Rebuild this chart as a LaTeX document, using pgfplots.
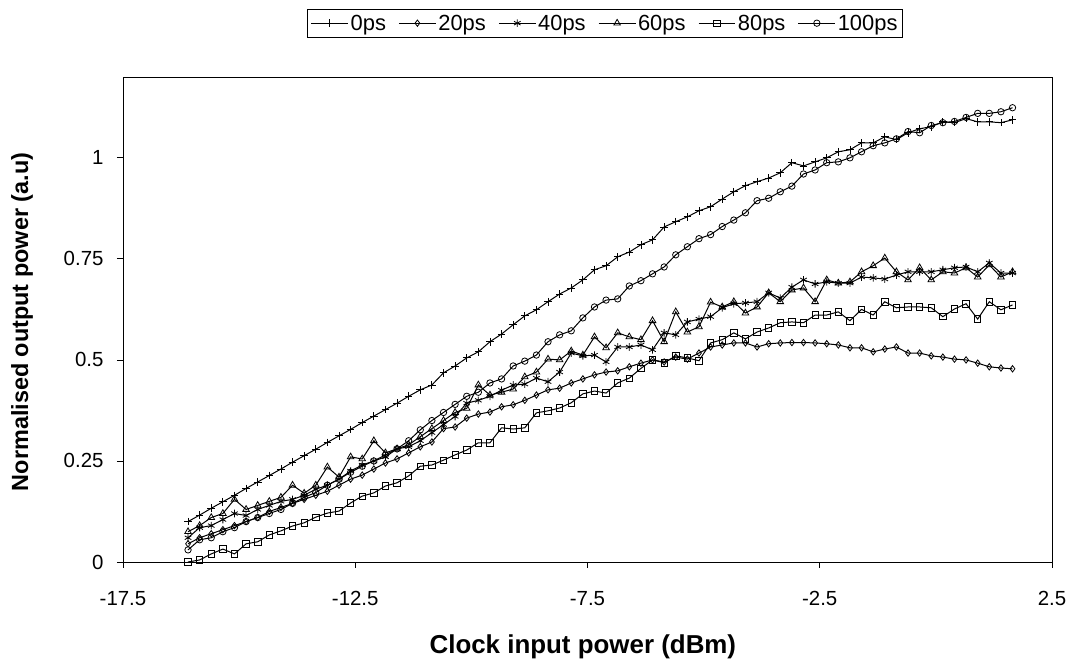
\documentclass[border=0pt]{standalone}
\usepackage{fontspec}
\setmainfont{Liberation Sans}
\usepackage{pgfplots}
\pgfplotsset{compat=1.18}
\usepackage{pgfplotstable}

\pgfplotstableread{
x p0 p20 p40 p60 p80 p100
-16.1 0.100 0.045 0.060 0.075 0.000 0.030
-15.85 0.116 0.060 0.085 0.090 0.005 0.055
-15.6 0.133 0.070 0.090 0.110 0.020 0.060
-15.35 0.149 0.080 0.105 0.120 0.032 0.075
-15.1 0.165 0.090 0.120 0.155 0.020 0.085
-14.85 0.182 0.100 0.115 0.130 0.045 0.100
-14.6 0.198 0.110 0.130 0.140 0.050 0.110
-14.35 0.214 0.125 0.140 0.150 0.067 0.120
-14.1 0.230 0.135 0.150 0.160 0.077 0.130
-13.85 0.247 0.145 0.155 0.190 0.089 0.145
-13.6 0.263 0.155 0.165 0.170 0.097 0.160
-13.35 0.279 0.165 0.180 0.190 0.111 0.172
-13.1 0.296 0.175 0.190 0.235 0.121 0.190
-12.85 0.312 0.190 0.205 0.210 0.126 0.205
-12.6 0.328 0.205 0.225 0.260 0.146 0.222
-12.35 0.345 0.215 0.240 0.255 0.163 0.237
-12.1 0.361 0.230 0.250 0.300 0.171 0.250
-11.85 0.377 0.245 0.260 0.270 0.188 0.265
-11.6 0.393 0.255 0.280 0.280 0.196 0.280
-11.35 0.410 0.270 0.285 0.290 0.213 0.300
-11.1 0.426 0.285 0.300 0.310 0.237 0.327
-10.85 0.438 0.297 0.320 0.330 0.240 0.350
-10.6 0.468 0.330 0.340 0.350 0.252 0.370
-10.35 0.485 0.334 0.360 0.370 0.265 0.390
-10.1 0.505 0.356 0.393 0.380 0.277 0.410
-9.85 0.520 0.366 0.400 0.438 0.295 0.420
-9.6 0.545 0.371 0.410 0.413 0.295 0.443
-9.35 0.564 0.384 0.425 0.420 0.332 0.453
-9.1 0.587 0.389 0.438 0.428 0.329 0.485
-8.85 0.609 0.400 0.440 0.458 0.332 0.497
-8.6 0.624 0.413 0.455 0.470 0.369 0.512
-8.35 0.644 0.426 0.446 0.502 0.374 0.545
-8.1 0.663 0.430 0.470 0.500 0.381 0.562
-7.85 0.678 0.443 0.517 0.522 0.394 0.572
-7.6 0.698 0.453 0.510 0.512 0.416 0.604
-7.35 0.723 0.463 0.512 0.557 0.423 0.631
-7.1 0.733 0.470 0.495 0.530 0.418 0.648
-6.85 0.755 0.473 0.532 0.567 0.443 0.651
-6.6 0.767 0.483 0.532 0.557 0.455 0.683
-6.35 0.785 0.492 0.537 0.550 0.479 0.696
-6.1 0.797 0.500 0.525 0.597 0.500 0.713
-5.85 0.829 0.495 0.567 0.545 0.493 0.730
-5.6 0.842 0.507 0.562 0.619 0.510 0.760
-5.35 0.854 0.502 0.594 0.569 0.505 0.780
-5.1 0.869 0.517 0.601 0.582 0.498 0.800
-4.85 0.879 0.532 0.607 0.643 0.542 0.810
-4.6 0.898 0.537 0.629 0.631 0.550 0.830
-4.35 0.916 0.542 0.639 0.644 0.567 0.846
-4.1 0.931 0.542 0.641 0.616 0.552 0.864
-3.85 0.941 0.532 0.644 0.631 0.569 0.894
-3.6 0.950 0.540 0.666 0.666 0.579 0.900
-3.35 0.963 0.542 0.653 0.644 0.592 0.916
-3.1 0.988 0.543 0.680 0.673 0.594 0.930
-2.85 0.980 0.543 0.698 0.678 0.592 0.960
-2.6 0.990 0.542 0.688 0.644 0.611 0.970
-2.35 1.000 0.540 0.693 0.698 0.611 0.988
-2.1 1.015 0.537 0.690 0.690 0.619 0.990
-1.85 1.020 0.530 0.690 0.693 0.597 1.000
-1.6 1.037 0.530 0.705 0.718 0.625 1.015
-1.35 1.037 0.520 0.703 0.733 0.611 1.030
-1.1 1.052 0.527 0.700 0.752 0.644 1.037
-0.85 1.045 0.532 0.710 0.718 0.629 1.047
-0.6 1.062 0.517 0.718 0.698 0.631 1.065
-0.35 1.072 0.517 0.718 0.728 0.631 1.062
-0.1 1.077 0.510 0.718 0.698 0.629 1.080
0.15 1.089 0.507 0.723 0.718 0.607 1.087
0.4 1.087 0.502 0.728 0.715 0.626 1.090
0.65 1.097 0.500 0.730 0.728 0.639 1.100
0.9 1.089 0.492 0.718 0.705 0.601 1.110
1.15 1.089 0.483 0.740 0.735 0.644 1.110
1.4 1.087 0.480 0.715 0.705 0.624 1.114
1.65 1.094 0.478 0.715 0.718 0.636 1.124
}\data

\begin{document}
\begin{tikzpicture}
\useasboundingbox (-123bp,-99bp) rectangle (950bp,562bp);
\begin{axis}[
  at={(0bp,0bp)}, anchor=south west,
  scale only axis, width=929bp, height=485bp,
  xmin=-17.5, xmax=2.5, ymin=0, ymax=1.2,
  xtick={-17.5,-12.5,-7.5,-2.5,2.5},
  xticklabels={-17.5,-12.5,-7.5,-2.5,2.5},
  ytick={0,0.25,0.5,0.75,1},
  yticklabels={0,0.25,0.5,0.75,1},
  tick pos=left, tick align=outside, major tick length=6bp,
  tick style={black, line width=0.8bp},
  axis line style={line width=0.9bp},
  ticklabel style={font=\fontsize{20.5}{24}\selectfont},
  xticklabel style={yshift=-20bp},
  yticklabel style={xshift=-10bp},
  xlabel={Clock input power (dBm)},
  ylabel={Normalised output power (a.u)},
  xlabel style={font=\bfseries\fontsize{26}{30}\selectfont, at={(axis description cs:0.495,-0.175)}, anchor=center},
  ylabel style={font=\bfseries\fontsize{23.5}{27}\selectfont, at={(axis description cs:-0.1087,0.495)}, anchor=center},
  legend columns=6,
  legend style={at={(axis description cs:0.519,1.111)}, anchor=center, draw=black, line width=0.8bp,
    font=\fontsize{22}{26}\selectfont, inner xsep=3bp, inner ysep=3.5bp,
    /tikz/every even column/.append style={column sep=10.5bp}},
  legend image code/.code={\draw[mark repeat=2,mark phase=2] plot coordinates {(0cm,0cm) (0.65cm,0cm) (1.3cm,0cm)};},
  every axis plot/.append style={black, line width=1bp, mark options={solid, line width=0.8bp, fill=white}},
]
\addplot[mark=+, mark size=3.8bp] table[x=x,y=p0] {\data};
\addplot[mark=diamond, mark size=3.2bp] table[x=x,y=p20] {\data};
\addplot[mark=asterisk, mark size=3.8bp] table[x=x,y=p40] {\data};
\addplot[mark=triangle, mark size=3.8bp] table[x=x,y=p60] {\data};
\addplot[mark=square, mark size=3.2bp] table[x=x,y=p80] {\data};
\addplot[mark=o, mark size=3.2bp] table[x=x,y=p100] {\data};
\legend{0ps,20ps,40ps,60ps,80ps,100ps}
\end{axis}
\end{tikzpicture}
\end{document}
